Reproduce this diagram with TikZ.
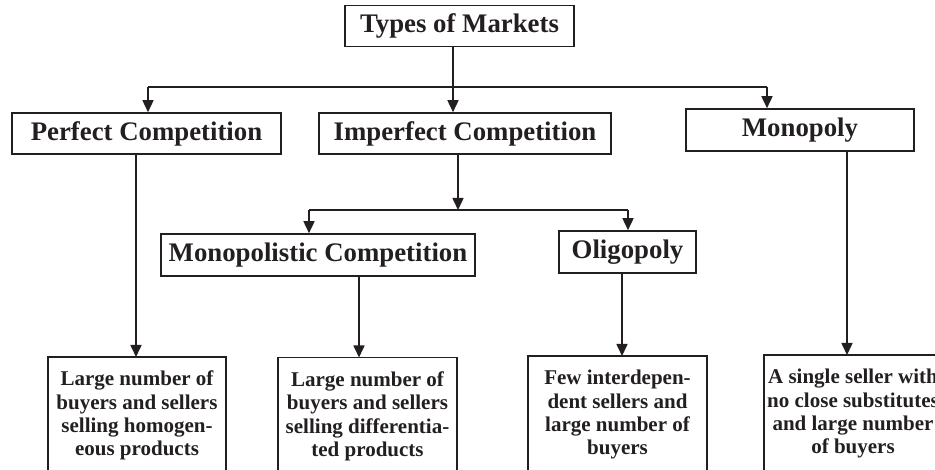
\documentclass[tikz,border=0pt]{standalone}
\usepackage{fontspec}
\setmainfont{Liberation Serif}
\usetikzlibrary{arrows.meta}
\definecolor{ink}{HTML}{231F20}
\begin{document}
\begin{tikzpicture}[x=1pt,y=-1pt,
  hbox/.style={draw=ink, line width=1.6pt, text=ink, font=\fontsize{26.8}{30}\selectfont\bfseries, inner sep=0pt, minimum height=41pt},
  btext/.style={anchor=north, text=ink, font=\fontsize{21}{23.3}\selectfont\bfseries, align=center, inner xsep=0pt, inner ysep=14pt},
  bline/.style={draw=ink, line width=1.6pt},
  arr/.style={draw=ink, fill=ink, line width=1.6pt, -{Triangle[length=12pt,width=11pt]}},
  ln/.style={draw=ink, line width=1.6pt}]
\useasboundingbox (0,0) rectangle (935,470);
\clip (0,0) rectangle (935,470);
% header boxes
\node[hbox, minimum width=229pt] (title) at (459.5,26) {Types of Markets};
\node[hbox, minimum width=269pt] (perf) at (146.5,133.5) {Perfect Competition};
\node[hbox, minimum width=292pt] (imp) at (465,133.5) {Imperfect Competition};
\node[hbox, minimum width=228pt, minimum height=42pt] (mono) at (800,130) {Monopoly};
\node[hbox, minimum width=314pt, minimum height=42pt] (mcomp) at (318,255) {Monopolistic Competition};
\node[hbox, minimum width=137pt, minimum height=42pt] (olig) at (627.5,252) {Oligopoly};
% bottom boxes
\node[btext] (b1) at (137,357) {Large number of\\buyers and sellers\\selling homogen-\\eous products};
\draw[bline] (b1.north) ++(-89,0) rectangle ++(178,140);
\node[btext] (b2) at (367.5,357.5) {Large number of\\buyers and sellers\\selling differentia-\\ted products};
\draw[bline] (b2.north) ++(-89.5,0) rectangle ++(179,140);
\node[btext] (b3) at (617.5,356) {Few interdepen-\\dent sellers and\\large number of\\buyers};
\draw[bline] (b3.north) ++(-89.5,0) rectangle ++(179,140);
\node[btext] (b4) at (853,355) {A single seller with\\no close substitutes\\and large number\\of buyers};
\draw[bline] (b4.north) ++(-89,0) rectangle ++(180,140);
% first level connectors
\coordinate (j1) at (453,87);
\coordinate (xp) at (148,0);
\coordinate (xm) at (767,0);
\draw[ln] (title.south -| j1) -- (j1);
\draw[arr] (j1) -- (imp.north -| j1);
\draw[ln] (xp |- j1) -- (xm |- j1);
\draw[arr] (xp |- j1) -- (perf.north -| xp);
\draw[arr] (xm |- j1) -- (mono.north -| xm);
% second level
\coordinate (j2) at (458,210);
\coordinate (xmc) at (309,0);
\coordinate (xol) at (628,0);
\draw[arr] (imp.south -| j2) -- (j2);
\draw[ln] (xmc |- j2) -- (xol |- j2);
\draw[arr] (xmc |- j2) -- (mcomp.north -| xmc);
\draw[arr] (xol |- j2) -- (olig.north -| xol);
% stems to descriptions
\coordinate (s1) at (136,0);
\coordinate (s2) at (359,0);
\coordinate (s3) at (622,0);
\coordinate (s4) at (847,0);
\draw[arr] (perf.south -| s1) -- (b1.north -| s1);
\draw[arr] (mcomp.south -| s2) -- (b2.north -| s2);
\draw[arr] (olig.south -| s3) -- (b3.north -| s3);
\draw[arr] (mono.south -| s4) -- (b4.north -| s4);
\end{tikzpicture}
\end{document}
